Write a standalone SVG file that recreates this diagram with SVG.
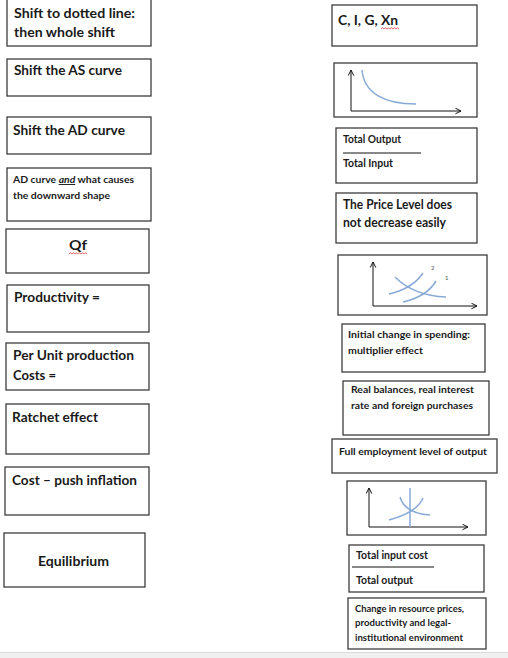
<svg xmlns="http://www.w3.org/2000/svg" width="508" height="658" viewBox="0 0 508 658">
<style>
.box{fill:#fff;stroke:#3c3c3c;stroke-width:1.3}
text{font-family:Lato,"Liberation Sans",sans-serif;font-weight:bold;fill:#1a1a1a}
.l{font-size:14px}
.m{font-size:11.5px}
.s{font-size:9.5px}
.ax{fill:none;stroke:#111;stroke-width:1}
.cv{fill:none;stroke:#88aad6;stroke-width:1.5}
.wave{fill:none;stroke:#e03a3a;stroke-width:0.8}
.rule{stroke:#111;stroke-width:1}
</style>
<defs>
<marker id="ah" viewBox="0 0 10 10" refX="9" refY="5" markerWidth="7" markerHeight="7" orient="auto" markerUnits="userSpaceOnUse">
<path d="M1,1 L9,5 L1,9" fill="none" stroke="#111" stroke-width="1.4"/>
</marker>
</defs>
<rect width="508" height="658" fill="#fff"/>
<g id="connectors"/>

<g id="n-shift-dotted">
<rect class="box" x="7" y="-2" width="144" height="48"/>
<text class="l" x="14" y="18" textLength="121" lengthAdjust="spacingAndGlyphs">Shift to dotted line:</text>
<text class="l" x="14" y="37" textLength="101" lengthAdjust="spacingAndGlyphs">then whole shift</text>
</g>
<g id="n-shift-as">
<rect class="box" x="7" y="59" width="144" height="37"/>
<text class="l" x="14" y="75" textLength="108" lengthAdjust="spacingAndGlyphs">Shift the AS curve</text>
</g>
<g id="n-shift-ad">
<rect class="box" x="7" y="117" width="144" height="37"/>
<text class="l" x="13" y="135" textLength="112" lengthAdjust="spacingAndGlyphs">Shift the AD curve</text>
</g>
<g id="n-ad-curve">
<rect class="box" x="7" y="168" width="144" height="53"/>
<text class="s" x="13" y="183" textLength="121" lengthAdjust="spacingAndGlyphs">AD curve <tspan font-style="italic" text-decoration="underline">and</tspan> what causes</text>
<text class="s" x="13" y="199" textLength="97" lengthAdjust="spacingAndGlyphs">the downward shape</text>
</g>
<g id="n-qf">
<rect class="box" x="6" y="229" width="143" height="44"/>
<text class="l" x="69" y="250" textLength="18" lengthAdjust="spacingAndGlyphs">Qf</text>
<path class="wave" d="M69,254 l1.5,-1.2 l1.5,1.2 l1.5,-1.2 l1.5,1.2 l1.5,-1.2 l1.5,1.2 l1.5,-1.2 l1.5,1.2 l1.5,-1.2 l1.5,1.2 l1.5,-1.2 l1.5,1.2"/>
</g>
<g id="n-productivity">
<rect class="box" x="7" y="285" width="142" height="47"/>
<text class="l" x="14" y="302" textLength="86" lengthAdjust="spacingAndGlyphs">Productivity =</text>
</g>
<g id="n-per-unit">
<rect class="box" x="6" y="343" width="143" height="47"/>
<text class="l" x="13" y="360" textLength="121" lengthAdjust="spacingAndGlyphs">Per Unit production</text>
<text class="l" x="13" y="380" textLength="43" lengthAdjust="spacingAndGlyphs">Costs =</text>
</g>
<g id="n-ratchet">
<rect class="box" x="6" y="404" width="143" height="50"/>
<text class="l" x="12" y="422" textLength="86" lengthAdjust="spacingAndGlyphs">Ratchet effect</text>
</g>
<g id="n-cost-push">
<rect class="box" x="5" y="467" width="144" height="48"/>
<text class="l" x="12" y="485" textLength="125" lengthAdjust="spacingAndGlyphs">Cost – push inflation</text>
</g>
<g id="n-equilibrium">
<rect class="box" x="4" y="533" width="141" height="54"/>
<text class="l" x="38" y="566" textLength="71" lengthAdjust="spacingAndGlyphs">Equilibrium</text>
</g>

<g id="n-cigxn">
<rect class="box" x="332" y="5" width="145" height="41"/>
<text class="l" x="338" y="25" textLength="60" lengthAdjust="spacingAndGlyphs">C, I, G, Xn</text>
<path class="wave" d="M381,29 l1.5,-1.2 l1.5,1.2 l1.5,-1.2 l1.5,1.2 l1.5,-1.2 l1.5,1.2 l1.5,-1.2 l1.5,1.2 l1.5,-1.2 l1.5,1.2 l1.5,-1.2 l1.5,1.2"/>
</g>
<g id="n-graph-ad">
<rect class="box" x="334" y="63" width="143" height="54"/>
<path class="ax" d="M351,111 L351,70" marker-end="url(#ah)"/>
<path class="ax" d="M351,111 L461,111" marker-end="url(#ah)"/>
<path class="cv" d="M362,70 C364,93 384,104 416,104"/>
</g>
<g id="n-total-output">
<rect class="box" x="336" y="128" width="141" height="55"/>
<text class="m" x="343" y="143" textLength="58" lengthAdjust="spacingAndGlyphs">Total Output</text>
<line class="rule" x1="343" y1="153" x2="421" y2="153"/>
<text class="m" x="343" y="167" textLength="50" lengthAdjust="spacingAndGlyphs">Total Input</text>
</g>
<g id="n-price-level">
<rect class="box" x="336" y="193" width="141" height="50"/>
<text class="l" x="343" y="209" textLength="109" lengthAdjust="spacingAndGlyphs">The Price Level does</text>
<text class="l" x="343" y="227" textLength="103" lengthAdjust="spacingAndGlyphs">not decrease easily</text>
</g>
<g id="n-graph-shift">
<rect class="box" x="338" y="255" width="149" height="60"/>
<path class="ax" d="M373,306 L373,262" marker-end="url(#ah)"/>
<path class="ax" d="M373,306 L477,306" marker-end="url(#ah)"/>
<path class="cv" d="M389,294 C402,291 415,285 423,273"/>
<path class="cv" d="M403,302 C416,299 429,293 436,281"/>
<path class="cv" d="M395,277 C405,287 420,296 446,297"/>
<text x="431" y="270" style="font-size:6px;font-weight:normal;fill:#555">2</text>
<text x="445" y="280" style="font-size:6px;font-weight:normal;fill:#555">1</text>
</g>
<g id="n-initial-change">
<rect class="box" x="342" y="324" width="143" height="48"/>
<text class="s" x="348" y="338" textLength="122" lengthAdjust="spacingAndGlyphs">Initial change in spending:</text>
<text class="s" x="348" y="354" textLength="75" lengthAdjust="spacingAndGlyphs">multiplier effect</text>
</g>
<g id="n-real-balances">
<rect class="box" x="343" y="381" width="146" height="54"/>
<text class="s" x="351" y="393" textLength="123" lengthAdjust="spacingAndGlyphs">Real balances, real interest</text>
<text class="s" x="351" y="409" textLength="122" lengthAdjust="spacingAndGlyphs">rate and foreign purchases</text>
</g>
<g id="n-full-employment">
<rect class="box" x="332" y="439" width="165" height="34"/>
<text class="s" x="339" y="455" textLength="148" lengthAdjust="spacingAndGlyphs">Full employment level of output</text>
</g>
<g id="n-graph-eq">
<rect class="box" x="347" y="481" width="139" height="54"/>
<path class="ax" d="M369,527 L369,488" marker-end="url(#ah)"/>
<path class="ax" d="M369,527 L468,527" marker-end="url(#ah)"/>
<line x1="410" y1="488" x2="410" y2="527" style="stroke:#88aad6;stroke-width:1.5"/>
<path class="cv" d="M400,497 C403,507 412,514 430,515"/>
<path class="cv" d="M389,520 C404,516 418,510 423,498"/>
</g>
<g id="n-total-input-cost">
<rect class="box" x="349" y="545" width="135" height="47"/>
<text class="m" x="356" y="559" textLength="72" lengthAdjust="spacingAndGlyphs">Total input cost</text>
<line class="rule" x1="352" y1="567" x2="434" y2="567"/>
<text class="m" x="356" y="584" textLength="57" lengthAdjust="spacingAndGlyphs">Total output</text>
</g>
<g id="n-change-resource">
<rect class="box" x="348" y="598" width="138" height="51"/>
<text class="s" x="355" y="612" textLength="109" lengthAdjust="spacingAndGlyphs">Change in resource prices,</text>
<text class="s" x="355" y="626" textLength="96" lengthAdjust="spacingAndGlyphs">productivity and legal-</text>
<text class="s" x="355" y="641" textLength="108" lengthAdjust="spacingAndGlyphs">institutional environment</text>
</g>

<rect x="0" y="652" width="508" height="6" fill="#f0f0f0"/>
<line x1="0" y1="652.5" x2="508" y2="652.5" stroke="#dadada" stroke-width="1"/>
</svg>
